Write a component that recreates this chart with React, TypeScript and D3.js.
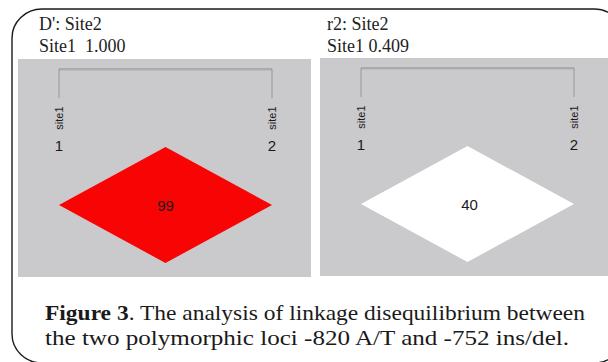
import React from "react"
import * as d3 from "d3"

// LD between the two loci, one panel per statistic
const statNames = ["D'", "r2"]
const statValues = [1.0, 0.409]
const cellLabels = ["99", "40"]
const cellColors = ["#f80404", "#ffffff"]
const siteNames = ["site1", "site1"]
const siteNumbers = [1, 2]
const headerRow = "Site2"
const headerCol = "Site1"
const captionBold = "Figure 3"
const captionLines = [
  ". The analysis of linkage disequilibrium between",
  "the two polymorphic loci -820 A/T and -752 ins/del.",
]

const W = 608
const H = 362
const serif = { fontFamily: "Liberation Serif" }
const sans = { fontFamily: "Liberation Sans" }

const panels = [
  { x0: 18, x1: 311, y0: 59, y1: 277, titleX: 39, gap: "\u00a0\u00a0" },
  { x0: 320, x1: 612, y0: 58, y1: 276, titleX: 327, gap: " " },
]

const Panel = ({ k }: { k: number }) => {
  const p = panels[k]
  const x = d3
    .scalePoint<number>()
    .domain(siteNumbers)
    .range([p.x0 + 41, p.x0 + 254])
  const by = p.y0 + 10
  const y = d3.scaleLinear().domain([0, 1]).range([by + 136, by + 78])
  const xa = x(1)!
  const xb = x(2)!
  const xm = (xa + xb) / 2
  const dy = y(0) - y(1)
  const pts: [number, number][] = [
    [xm, y(1)],
    [xb, y(0)],
    [xm, y(0) + dy],
    [xa, y(0)],
  ]
  return (
    <g>
      <text x={p.titleX} y={30} style={{ ...serif, fontSize: "18px" }} fill="#222">
        {`${statNames[k]}: ${headerRow}`}
      </text>
      <text x={p.titleX} y={52} style={{ ...serif, fontSize: "18px" }} fill="#222">
        {`${headerCol}${p.gap}${d3.format(".3f")(statValues[k])}`}
      </text>
      <rect x={p.x0} y={p.y0} width={p.x1 - p.x0} height={p.y1 - p.y0} fill="#cac9cc" />
      <line x1={xa} x2={xb} y1={by} y2={by} stroke="#7a7a7a" strokeWidth={0.8} />
      <line x1={xa} x2={xb} y1={by + 1.2} y2={by + 1.2} stroke="#b4b4b4" strokeWidth={0.8} />
      {siteNumbers.map((s, i) => (
        <g key={s}>
          <line x1={x(s)} x2={x(s)} y1={by} y2={by + 29} stroke="#8c8c8c" strokeWidth={0.8} />
          <text
            transform={`translate(${x(s)! + 4},${by + 49}) rotate(-90)`}
            textAnchor="middle"
            style={{ ...sans, fontSize: "11px" }}
            fill="#1a1a1a"
          >
            {siteNames[i]}
          </text>
          <text x={x(s)} y={by + 82} textAnchor="middle" style={{ ...sans, fontSize: "15px" }} fill="#1a1a1a">
            {s}
          </text>
        </g>
      ))}
      <path d={d3.line()(pts) + "Z"} fill={cellColors[k]} />
      <text
        x={xm + (k === 1 ? 2 : 0)}
        y={y(0) + 6}
        textAnchor="middle"
        style={{ ...sans, fontSize: "15px" }}
        fill="#1a1a1a"
      >
        {cellLabels[k]}
      </text>
    </g>
  )
}

const App = () => (
  <svg width={W} height={H} style={{ position: "absolute", left: 0, top: 0, background: "#fff" }}>
    <rect x={12} y={9} width={612} height={354} rx={30} ry={29} fill="none" stroke="#1a1a1a" strokeWidth={1.4} />
    <Panel k={0} />
    <Panel k={1} />
    <text
      x={45}
      y={320}
      style={{ ...serif, fontSize: "21px" }}
      fill="#1a1a1a"
      textLength={540}
      lengthAdjust="spacingAndGlyphs"
    >
      <tspan fontWeight="bold">{captionBold}</tspan>
      <tspan>{captionLines[0]}</tspan>
    </text>
    <text
      x={45}
      y={345}
      style={{ ...serif, fontSize: "21px" }}
      fill="#1a1a1a"
      textLength={524}
      lengthAdjust="spacingAndGlyphs"
    >
      {captionLines[1]}
    </text>
  </svg>
)

export default App
